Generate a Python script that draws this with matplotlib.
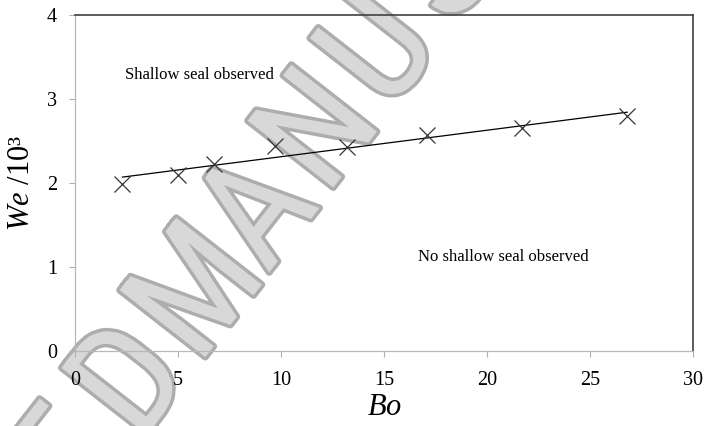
import matplotlib
matplotlib.use("Agg")
import matplotlib.pyplot as plt
import matplotlib.patheffects as pe
from matplotlib import font_manager
import numpy as np

# data
bo = [2.3, 5.0, 6.75, 9.7, 13.2, 17.1, 21.7, 26.8]
we = [1.99, 2.10, 2.23, 2.44, 2.43, 2.57, 2.65, 2.80]
xticks = [0, 5, 10, 15, 20, 25, 30]
yticks = [0, 1, 2, 3, 4]
watermark = "ACCEPTED MANUSCRIPT"

plt.rcParams['font.family'] = ['Liberation Serif', 'DejaVu Serif']
plt.rcParams['mathtext.fontset'] = 'custom'
plt.rcParams['mathtext.it'] = 'Liberation Serif:italic'
plt.rcParams['mathtext.rm'] = 'Liberation Serif'

# narrowest sans we can find for the watermark
names = {f.name for f in font_manager.fontManager.ttflist}
wm_font = 'DejaVu Sans'
for cand in ['Roboto Condensed', 'Liberation Sans Narrow', 'DejaVu Sans Condensed', 'Roboto']:
    if cand in names:
        wm_font = cand
        break

W, H = 705, 426
fig = plt.figure(figsize=(W / 100, H / 100), dpi=100)
ax = fig.add_axes([0.1064, 0.176, 0.8766, 0.789])
ax.set_facecolor('none')

# watermark: one letter at a time along a slanted baseline (pixels from top-left)
rot = 52          # letter rotation
base = 53         # direction the letters march in
adv = 101         # px between letter centres, a space counts about half
d_pos = np.array([134.0, 384.0])   # anchor of the "D"
u = np.array([np.cos(np.radians(base)), -np.sin(np.radians(base))])
steps = np.cumsum([0] + [0.55 if c == ' ' or p == ' ' else 1.0
                         for p, c in zip(watermark[:-1], watermark[1:])])
steps = steps - steps[7]
for ch, s in zip(watermark, steps):
    cx, cy = d_pos + s * adv * u
    if ch == ' ' or not (-70 < cx < W + 70 and -70 < cy < H + 70):
        continue
    fig.text(cx / W, 1 - cy / H, ch, fontsize=110, family=wm_font,
             rotation=rot, rotation_mode='anchor', ha='center', va='center',
             color='#d8d8d8', zorder=-1,
             path_effects=[pe.withStroke(linewidth=5, foreground='#adadad')])

# points and linear trend
ax.plot(bo, we, ls='none', marker='x', ms=11.5, mew=0.9, color='#333333', zorder=3)
k, b = np.polyfit(bo, we, 1)
xs = np.array([min(bo), max(bo)])
ax.plot(xs, k * xs + b, color='black', lw=0.9, zorder=2)

ax.set_xlim(0, 30)
ax.set_ylim(0, 4)
ax.set_xticks(xticks)
ax.set_yticks(yticks)
ax.tick_params(direction='out', length=4.3, width=0.8, color='#b0b0b0',
               labelsize=14.5, pad=8.6)
ax.tick_params(axis='x', pad=10)

for s in ['left', 'bottom']:
    ax.spines[s].set_color('#b8b8b8')
    ax.spines[s].set_linewidth(0.9)
for s in ['top', 'right']:
    ax.spines[s].set_color('#404040')
    ax.spines[s].set_linewidth(1.2)

ax.set_xlabel(r"$Bo$", fontsize=22, labelpad=2)
ax.set_ylabel(r"$We$ /10³", fontsize=22, labelpad=8)

ax.text(2.43, 3.29, "Shallow seal observed", fontsize=12, va='center', ha='left')
ax.text(16.65, 1.12, "No shallow seal observed", fontsize=12, va='center', ha='left')

fig.savefig("out.png", dpi=100)
